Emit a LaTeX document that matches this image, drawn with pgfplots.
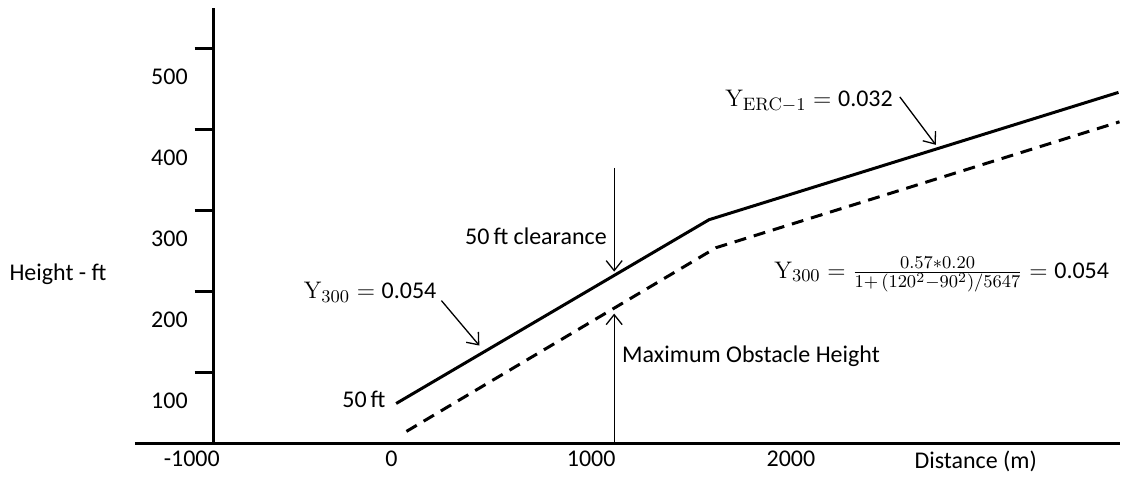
\documentclass[border=0pt]{standalone}
\usepackage{pgfplots}
\pgfplotsset{compat=1.18}
\usepackage[no-math]{fontspec}
\setmainfont{Carlito}
\DeclareMathSizes{12}{12}{9}{7}
\usetikzlibrary{arrows.meta}
\begin{document}
\begin{tikzpicture}[font=\fontsize{12}{14}\selectfont]
  \begin{axis}[
      x=0.1pt, y=0.405pt,
      xmin=-1285, xmax=3645,
      ymin=12.35, ymax=550.6,
      clip=false,
      axis x line=bottom,
      axis y line=left,
      axis y line shift=-39.5pt,
      axis line style={line width=1.5pt, -},
      xtick={-1000,0,1000,2000},
      xticklabels={-1000,0,1000,2000},
      xtick style={draw=none},
      xticklabel style={yshift=9.5pt},
      ytick={100,200,300,400,500},
      yticklabels={100,200,300,400,500},
      ytick style={line width=1.5pt, black},
      tick align=outside,
      major tick length=9.5pt,
      yticklabel style={yshift=-14pt},
      xlabel={Distance (m)},
      xlabel style={at={(ticklabel cs:0.854)}, anchor=south, yshift=-3pt},
      ylabel={Height - ft},
      ylabel style={at={(axis description cs:-0.078,0.388)}, rotate=-90, anchor=center},
    ]
    % bounding box of the whole figure
    \path (axis cs:-1960,-23.45) rectangle (axis cs:3645,560.5);

    \addplot[line width=1.5pt, black] coordinates {
      (23.5,61.7) (1590,288.9) (3640,446.3)
    };
    \addplot[line width=1.5pt, black, dash pattern=on 6pt off 4pt] coordinates {
      (75,27.2) (1625,254.3) (3645,409.9)
    };

    % annotations
    \tikzset{ann/.style={line width=0.65pt, -{Straight Barb[length=5pt,width=8pt]}}}
    \draw[ann] (axis cs:1115,353) -- (axis cs:1115,224.7);
    \draw[ann] (axis cs:1115,12.35) -- (axis cs:1115,172.8);
    \draw[ann] (axis cs:250,188.9) -- (axis cs:440,133.3);
    \draw[ann] (axis cs:2545,440.7) -- (axis cs:2725,381.5);

    \node[anchor=east] at (axis cs:1113,267.9) {50\,ft clearance};
    \node[anchor=west] at (axis cs:1120,119.8) {Maximum Obstacle Height};
    \node[anchor=east] at (axis cs:5,66.7) {50\,ft};
    \node[anchor=east] at (axis cs:260,199) {$\mathrm{Y}_{300} = {}$0.054};
    \node[anchor=east] at (axis cs:2545,436) {$\mathrm{Y}_{\mathrm{ERC}-1} = {}$0.032};
    \node[anchor=west] at (axis cs:1882,221) {$\mathrm{Y}_{300} = \frac{0.57\ast0.20}{1+\,(120^2-90^2)/5647} = {}$0.054};
  \end{axis}
\end{tikzpicture}
\end{document}
